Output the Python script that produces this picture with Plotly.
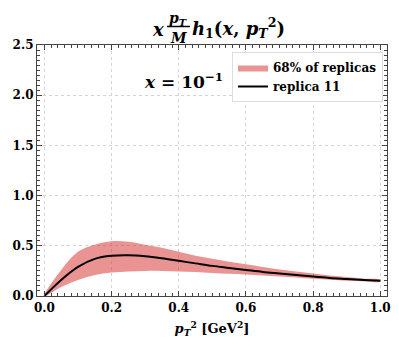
import plotly.graph_objects as go

# p_T^2 grid [GeV^2]
pt2 = [0.0, 0.05, 0.10, 0.15, 0.20, 0.25, 0.30, 0.35, 0.40, 0.45, 0.50,
       0.55, 0.60, 0.65, 0.70, 0.75, 0.80, 0.85, 0.90, 0.95, 1.0]
# replica 11 (central curve)
replica11 = [0.0, 0.16, 0.29, 0.37, 0.40, 0.405, 0.395, 0.375, 0.35, 0.325, 0.30,
             0.28, 0.26, 0.24, 0.225, 0.21, 0.195, 0.18, 0.17, 0.16, 0.152]
# 68% band
band_hi = [0.0, 0.26, 0.44, 0.51, 0.545, 0.54, 0.51, 0.48, 0.44, 0.40, 0.37,
           0.34, 0.315, 0.29, 0.265, 0.245, 0.225, 0.205, 0.19, 0.175, 0.162]
band_lo = [0.0, 0.09, 0.16, 0.21, 0.235, 0.245, 0.25, 0.25, 0.245, 0.238, 0.23,
           0.222, 0.215, 0.205, 0.195, 0.185, 0.172, 0.162, 0.153, 0.147, 0.142]

SERIF = "DejaVu Serif"
W, H = 399, 352
OFF = 8  # page body margin shifts the figure
# plot box on screen: x 37..387, y 45..296
L, T = 37 - OFF, 45 - OFF
R, B = W - (387 - OFF), H - (296 - OFF)
pw, ph = W - L - R, H - T - B


def px(x):
    return (x - OFF - L) / pw


def py(y):
    return (H - B - (y - OFF)) / ph


fig = go.Figure()
fig.add_trace(go.Scatter(
    x=pt2 + pt2[::-1], y=band_hi + band_lo[::-1], fill="toself",
    fillcolor="rgba(214,39,40,0.5)", line=dict(width=0, shape="spline"),
    mode="lines", name="68% of replicas", hoverinfo="skip"))
fig.add_trace(go.Scatter(
    x=pt2, y=replica11, mode="lines", name="replica 11",
    line=dict(color="black", width=2, shape="spline")))

axis = dict(showline=True, linecolor="#444", linewidth=1.2, mirror="allticks",
            ticks="inside", ticklen=5, tickcolor="#444", automargin=False,
            showgrid=True, gridcolor="#d4d4d4", griddash="dot", gridwidth=0.8,
            zeroline=False, tickfont=dict(family=SERIF, size=12, color="black", weight="bold"))

fig.update_xaxes(**axis, range=[-0.022, 1.02], tickvals=[0, 0.2, 0.4, 0.6, 0.8, 1.0],
                 ticktext=["0.0", "0.2", "0.4", "0.6", "0.8", "1.0"],
                 minor=dict(dtick=0.02, ticks="inside", ticklen=2.5, tickcolor="#444", showgrid=False),
                 title=dict(text="<b><i>p</i><sub><i>T</i></sub><sup>2</sup> [GeV<sup>2</sup>]</b>",
                            font=dict(family=SERIF, size=13, color="black"), standoff=10))
fig.update_yaxes(**axis, range=[0, 2.5], tickvals=[0, 0.5, 1.0, 1.5, 2.0, 2.5],
                 ticktext=["0.0", "0.5", "1.0", "1.5", "2.0", "2.5"],
                 minor=dict(dtick=0.05, ticks="inside", ticklen=2.5, tickcolor="#444", showgrid=False))

tf = dict(family=SERIF, size=18, color="black")
sf = dict(family=SERIF, size=14, color="black")
ann = [
    dict(x=px(158), y=py(29), text="<b><i>x</i></b>", xanchor="center", yanchor="middle"),
    dict(x=px(178), y=py(8.5), text="<b><i>p<sub>T</sub></i></b>", font=sf, xanchor="center", yanchor="top"),
    dict(x=px(178), y=py(27.5), text="<b><i>M</i></b>", font=sf, xanchor="center", yanchor="top"),
    dict(x=px(190), y=py(28), text="<b><i>h</i><sub>1</sub>(<i>x</i>, <i>p<sub>T</sub></i><sup>2</sup>)</b>",
         xanchor="left", yanchor="middle"),
    dict(x=px(183), y=py(81), text="<b><i>x</i> = 10<sup>−1</sup></b>",
         font=dict(family=SERIF, size=17, color="black"), xanchor="center", yanchor="middle"),
]
for a in ann:
    fig.add_annotation(xref="paper", yref="paper", showarrow=False,
                       font=a.pop("font", tf), **a)
fig.add_shape(type="line", xref="paper", yref="paper", x0=px(167), x1=px(190),
              y0=py(26.5), y1=py(26.5), line=dict(color="black", width=1.5))

fig.update_layout(
    width=W, height=H, margin=dict(l=L, r=R, t=T, b=B),
    plot_bgcolor="white", paper_bgcolor="white",
    showlegend=True,
    legend=dict(x=px(383), y=py(52), xanchor="right", yanchor="top",
                bgcolor="white", bordercolor="#dddddd", borderwidth=1,
                font=dict(family=SERIF, size=12, color="black", weight="bold"),
                itemwidth=30, tracegroupgap=0),
)
fig.write_html("out.html")
